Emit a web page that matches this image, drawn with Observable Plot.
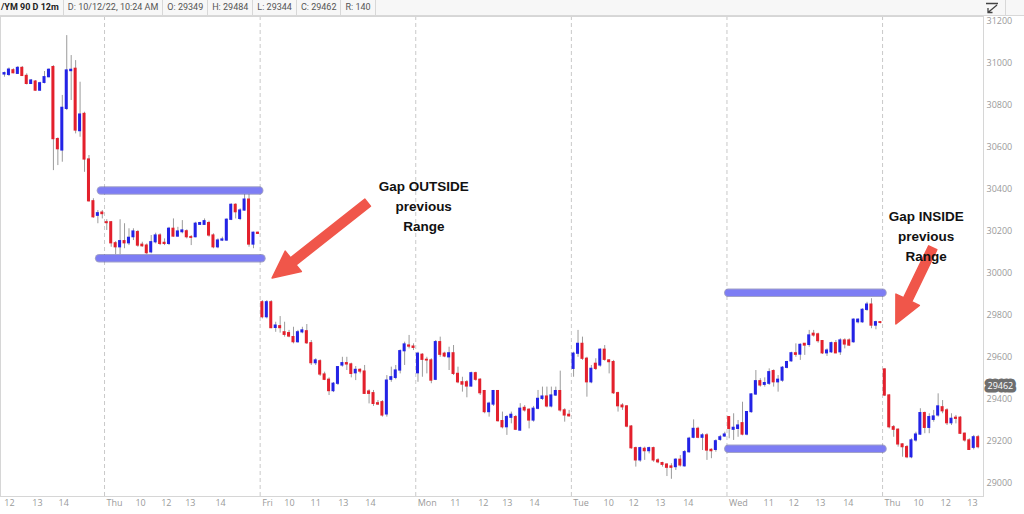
<!DOCTYPE html>
<html>
<head>
<meta charset="utf-8">
<script src="https://cdn.jsdelivr.net/npm/d3@7"></script>
<script src="https://cdn.jsdelivr.net/npm/@observablehq/plot@0.6"></script>
<style>
  html, body { margin: 0; padding: 0; background: #ffffff; }
  #wrap { position: relative; width: 1024px; height: 514px; overflow: hidden; font-family: "Open Sans", sans-serif; }
  #hdr { height: 15px; border-bottom: 1px solid #d8d8d8; background: #f7f7f7; display: flex; font-family: Roboto, sans-serif; font-size: 9px; color: #555; line-height: 15px; white-space: nowrap; }
  #hdr span { border-right: 1px solid #d8d8d8; padding: 0 4px; box-sizing: border-box; flex: none; }
  #hdr span.b { font-weight: 700; color: #222; padding-left: 1px; }
  #hdr span.f { flex: 1; border-right: none; }
  #icon { position: absolute; left: 985px; top: 2px; }
  svg { display: block; }
</style>
</head>
<body>
<div id="wrap">
  <div id="hdr">
    <span class="b">/YM 90 D 12m</span>
    <span>D: 10/12/22, 10:24 AM</span>
    <span>O: 29349</span>
    <span>H: 29484</span>
    <span>L: 29344</span>
    <span>C: 29462</span>
    <span>R: 140</span>
    <span style="width:630px"></span>
    <span class="f"></span>
  </div>
  <svg id="icon" width="14" height="12" viewBox="0 0 14 12"><path d="M1 1.5 H13 M12 3 L3 10.5 M3 6 V10.5 H7.5" stroke="#444" stroke-width="1.3" fill="none"/></svg>
  <div id="chart"></div>
</div>
<script>
// ---- OHLC data (YM 12-minute bars), one entry per bar ----
const opens = [30948,30946,30968,30951,30979,30941,30903,30914,30871,30908,30935,30983,30640,30586,30784,30964,30975,30678,30760,30543,30344,30275,30290,
30244,30244,30144,30125,30154,30144,30173,30197,30137,30133,30101,30149,30181,30146,30141,30213,30176,30197,30201,30173,30173,30232,30232,30240,30181,30125,30157,30157,30256,30327,30260,30300,30352,30138,30194,
29863,29792,29863,29741,29749,29720,29716,29697,29673,29720,29725,29668,29573,29582,29519,29494,29440,29475,29562,29573,29567,29525,29541,29533,29438,29430,29382,29387,29329,29494,29503,29538,29630,29657,29652,
29525,29613,29589,29586,29494,29673,29618,29601,29620,29522,29482,29482,29462,29525,29494,29440,29340,29376,29440,29297,29268,29313,29316,29252,29360,29351,29300,29356,29403,29414,29367,29419,29440,29348,29327,
29546,29618,29665,29594,29482,29570,29562,29637,29586,29578,29430,29371,29367,29271,29168,29110,29165,29154,29168,29110,29097,29090,29081,29078,29113,29082,29149,29218,29260,29218,29229,29160,29160,29208,29224,
29316,29256,29260,29287,29233,29340,29424,29487,29470,29475,29535,29482,29490,29551,29582,29620,29614,29665,29660,29713,29710,29678,29620,29625,29668,29625,29681,29681,29673,29768,29768,29827,29852,29752,29768,
29543,29419,29268,29256,29186,29173,29125,29205,29233,29335,29265,29303,29324,29363,29348,29287,29313,29313,29237,29205,29170,29220];
const highs = [30959,30979,30975,30986,30986,30951,30924,30919,30911,30962,30975,30990,30646,30848,31133,31038,31014,30911,30768,30562,30356,30300,30300,
30256,30248,30152,30256,30237,30213,30213,30205,30149,30141,30181,30192,30189,30165,30220,30260,30220,30252,30208,30181,30244,30244,30260,30249,30189,30165,30173,30260,30332,30332,30308,30376,30376,30197,30197,
29871,29871,29871,29768,29795,29768,29729,29744,29729,29744,29757,29681,29594,29589,29530,29503,29481,29557,29601,29601,29573,29557,29546,29562,29446,29443,29395,29395,29514,29554,29562,29636,29673,29705,29665,
29625,29618,29601,29594,29681,29697,29625,29649,29657,29554,29506,29490,29530,29530,29499,29443,29387,29443,29443,29340,29324,29340,29324,29380,29371,29356,29367,29443,29459,29459,29459,29459,29535,29356,29348,
29625,29729,29697,29601,29562,29594,29641,29657,29589,29586,29435,29380,29371,29276,29173,29173,29173,29173,29173,29118,29101,29094,29094,29118,29133,29157,29220,29303,29268,29237,29237,29165,29208,29229,29244,
29319,29332,29300,29387,29340,29427,29538,29499,29503,29546,29541,29514,29557,29582,29625,29665,29665,29665,29729,29729,29716,29681,29641,29673,29681,29689,29689,29689,29784,29784,29832,29863,29880,29773,29771,
29546,29424,29276,29260,29189,29181,29213,29244,29356,29340,29332,29348,29427,29395,29356,29332,29324,29319,29240,29213,29229,29229];
const lows = [30935,30938,30951,30948,30938,30898,30900,30868,30868,30903,30932,30490,30514,30530,30776,30824,30665,30649,30482,30340,30263,30237,30260,
30205,30125,30090,30090,30118,30133,30157,30125,30125,30090,30094,30141,30133,30133,30133,30173,30173,30189,30165,30133,30170,30229,30229,30173,30118,30118,30152,30154,30252,30260,30252,30297,30125,30118,30186,
29784,29784,29737,29720,29716,29697,29694,29665,29668,29713,29662,29562,29562,29510,29490,29419,29433,29467,29554,29538,29503,29490,29522,29424,29379,29367,29371,29316,29316,29482,29494,29522,29562,29641,29633,
29482,29506,29522,29475,29490,29601,29599,29538,29514,29475,29435,29408,29459,29487,29419,29332,29316,29367,29292,29260,29229,29284,29252,29249,29340,29260,29292,29351,29395,29360,29360,29414,29340,29292,29316,
29506,29601,29586,29411,29475,29538,29554,29582,29522,29424,29340,29348,29265,29163,29078,29101,29110,29141,29101,29094,29078,29033,29020,29062,29078,29078,29144,29213,29213,29157,29110,29118,29149,29201,29220,
29213,29205,29220,29227,29227,29335,29419,29459,29459,29467,29459,29435,29482,29546,29578,29601,29586,29610,29649,29697,29668,29614,29605,29620,29618,29610,29641,29652,29668,29760,29763,29820,29737,29732,29760,
29414,29260,29220,29173,29125,29118,29118,29197,29229,29237,29237,29292,29316,29332,29276,29276,29284,29233,29197,29157,29160,29165];
const closes = [30954,30971,30954,30979,30941,30903,30919,30871,30906,30935,30970,30640,30592,30789,30967,30970,30681,30757,30543,30344,30268,30287,30283,
30240,30144,30125,30154,30144,30170,30200,30133,30130,30097,30149,30181,30141,30141,30213,30176,30200,30205,30173,30170,30237,30240,30249,30181,30125,30157,30162,30256,30327,30292,30300,30352,30138,30194,30189,
29792,29863,29740,29752,29740,29708,29700,29673,29720,29729,29668,29573,29586,29519,29494,29440,29475,29554,29573,29567,29522,29541,29533,29427,29427,29379,29376,29324,29490,29506,29538,29630,29662,29652,29646,
29618,29589,29586,29490,29673,29613,29605,29620,29522,29482,29471,29462,29525,29494,29430,29340,29380,29440,29297,29268,29316,29327,29256,29356,29348,29300,29356,29403,29414,29367,29419,29440,29348,29324,29320,
29618,29665,29594,29482,29546,29546,29637,29589,29578,29430,29368,29363,29271,29168,29110,29168,29154,29168,29110,29101,29089,29075,29075,29113,29086,29149,29213,29260,29218,29229,29157,29154,29201,29220,29233,
29260,29265,29276,29233,29340,29424,29487,29467,29478,29530,29482,29494,29551,29578,29620,29613,29660,29657,29705,29705,29678,29620,29633,29668,29620,29681,29662,29657,29780,29780,29827,29852,29752,29768,29765,
29419,29268,29256,29186,29173,29125,29205,29233,29335,29265,29316,29319,29367,29344,29287,29308,29308,29237,29205,29160,29220,29173];

// ---- axes / ticks ----
const yTicks = [29000, 29200, 29400, 29600, 29800, 30000, 30200, 30400, 30600, 30800, 31000, 31200];
const dayBreaks = [22.5, 57.5, 92.5, 127.5, 162.5, 197.5];
const dayNames = ["Thu", "Fri", "Mon", "Tue", "Wed", "Thu"];
const hourPos = [1.1, 7.4, 13.3, 30.6, 36.4, 41.8, 48.6, 64.1, 70, 76.2, 82.3, 101.4, 107.7, 113.1, 119.2, 135.9, 141.5, 147.5, 153.8, 171.9, 177.5, 183.5, 189.8, 205.6, 211.7, 217.7];
const hourLabels = ["12","13","14","10","12","13","14","10","11","13","14","11","12","13","14","10","12","13","14","11","12","13","14","10","12","13"];
const lastPrice = 29462;

// ---- annotations ----
const rangeLevels = [30395, 30073, 29908, 29165];
const rangeStart = [21.8, 21.4, 162.9, 162.9];
const rangeEnd = [57.4, 57.9, 197.6, 197.6];
const arrowFrom = [[81.8, 30335], [208.9, 30120]];
const arrowTo = [[60.3, 29976], [200.6, 29757]];
const noteText = ["Gap OUTSIDE\nprevious\nRange", "Gap INSIDE\nprevious\nRange"];
const noteX = [94.3, 207.3];
const noteY = [30329, 30186];

const bars = opens.map((o, i) => ({i, o, h: highs[i], l: lows[i], c: closes[i]}));
const ranges = rangeLevels.map((p, k) => ({p, a: rangeStart[k], b: rangeEnd[k]}));
const notes = noteText.map((t, k) => ({t, x: noteX[k], y: noteY[k]}));
const days = dayBreaks.map((i, k) => ({i, label: dayNames[k]}));
const hours = hourPos.map((i, k) => ({i, label: hourLabels[k]}));

const UP = "#2323e6", DOWN = "#e3202c", WICK = "#9b9b9b";
const AXIS_FONT = "'Open Sans', sans-serif";

function arrowMark(index, scales) {
  const g = d3.create("svg:g");
  arrowFrom.forEach((f, k) => {
    const t = arrowTo[k];
    const x0 = scales.x(f[0]), y0 = scales.y(f[1]);
    const x1 = scales.x(t[0]), y1 = scales.y(t[1]);
    const L = Math.hypot(x1 - x0, y1 - y0);
    const ux = (x1 - x0) / L, uy = (y1 - y0) / L;
    const nx = -uy, ny = ux;
    const w = 4.5, hw = 13, hl = 27;
    const bx = x1 - ux * hl, by = y1 - uy * hl;
    const pts = [
      [x0 + nx * w, y0 + ny * w], [bx + nx * w, by + ny * w], [bx + nx * hw, by + ny * hw],
      [x1, y1], [bx - nx * hw, by - ny * hw], [bx - nx * w, by - ny * w], [x0 - nx * w, y0 - ny * w]
    ];
    g.append("polygon")
      .attr("points", pts.map(p => p.join(",")).join(" "))
      .attr("fill", "#f0564a")
      .attr("stroke", "#f0564a")
      .attr("stroke-width", 1.5)
      .attr("stroke-linejoin", "round");
  });
  return g.node();
}

const plot = Plot.plot({
  width: 1024,
  height: 498,
  marginTop: 0,
  marginBottom: 18,
  marginLeft: 0,
  marginRight: 41,
  x: {type: "linear", domain: [-0.9, 220.2], axis: null},
  y: {domain: [28938, 31224], axis: null},
  style: {background: "transparent", overflow: "visible"},
  marks: [
    Plot.ruleX(days, {x: "i", stroke: "#c9c9c9", strokeDasharray: "4,3", strokeWidth: 1}),
    Plot.frame({stroke: "#d6d6d6"}),
    Plot.ruleX(bars, {x: "i", y1: "l", y2: "h", stroke: WICK, strokeWidth: 1}),
    Plot.rect(bars, {
      x1: d => d.i - 0.34, x2: d => d.i + 0.34,
      y1: d => Math.min(d.o, d.c), y2: d => Math.max(d.o, d.c),
      fill: d => d.c >= d.o ? UP : DOWN,
      insetTop: -0.6, insetBottom: -0.6
    }),
    Plot.ruleY(ranges, {y: "p", x1: "a", x2: "b", stroke: "#55559a", strokeOpacity: 0.55, strokeWidth: 8.5, strokeLinecap: "round"}),
    Plot.ruleY(ranges, {y: "p", x1: "a", x2: "b", stroke: "#7d7df4", strokeWidth: 6.5, strokeLinecap: "round"}),
    arrowMark,
    Plot.text(notes, {x: "x", y: "y", text: "t", fontSize: 13.5, fontWeight: "bold", lineHeight: 1.5, fill: "#111", fontFamily: "'Liberation Sans', Arial, sans-serif"}),
    Plot.axisY({anchor: "right", ticks: yTicks, tickSize: 0, tickPadding: 3, fontSize: 9, fill: "#9a9a9a", fontFamily: AXIS_FONT, tickFormat: d => String(d)}),
    Plot.text([lastPrice], {y: d => d, text: d => String(d), frameAnchor: "right", textAnchor: "start", dx: 4, fontSize: 9, fill: "#ffffff", stroke: "#6e6e6e", strokeWidth: 7, strokeLinejoin: "round", paintOrder: "stroke", fontFamily: AXIS_FONT}),
    Plot.text(hours, {x: "i", text: "label", frameAnchor: "bottom", dy: 9, fontSize: 9, fill: "#9a9a9a", fontFamily: AXIS_FONT}),
    Plot.text(days, {x: "i", text: "label", frameAnchor: "bottom", dy: 9, dx: 2, textAnchor: "start", fontSize: 9, fill: "#9a9a9a", fontFamily: AXIS_FONT})
  ]
});
document.getElementById("chart").appendChild(plot);
</script>
</body>
</html>
